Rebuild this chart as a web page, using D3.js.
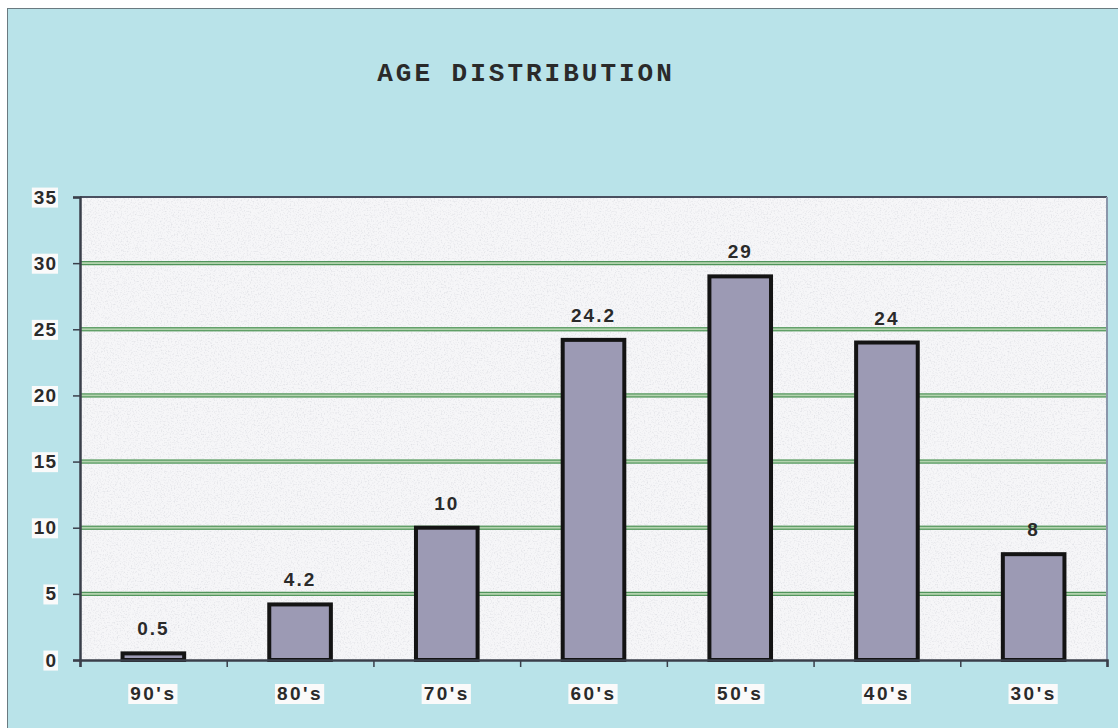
<!DOCTYPE html>
<html>
<head>
<meta charset="utf-8">
<script src="https://cdn.jsdelivr.net/npm/d3@7"></script>
<style>
  body { margin: 0; background: #ffffff; }
  svg { display: block; }
</style>
</head>
<body>
<svg id="chart" width="1118" height="728"></svg>
<script>
const categories = ["90's", "80's", "70's", "60's", "50's", "40's", "30's"];
const values = [0.5, 4.2, 10, 24.2, 29, 24, 8];
const yTicks = [0, 5, 10, 15, 20, 25, 30, 35];
const title = "AGE DISTRIBUTION";

const margin = { top: 197, right: 11, bottom: 68, left: 80 };
const width = 1118 - margin.left - margin.right;
const height = 728 - margin.top - margin.bottom;

const svg = d3.select("#chart");

// speckle texture for the plot area
const defs = svg.append("defs");
const f = defs.append("filter").attr("id", "speckle").attr("x", 0).attr("y", 0).attr("width", 1).attr("height", 1);
f.append("feTurbulence").attr("type", "fractalNoise").attr("baseFrequency", 0.7).attr("numOctaves", 2).attr("seed", 3).attr("result", "n");
f.append("feColorMatrix").attr("in", "n").attr("type", "matrix")
  .attr("values", "0 0 0 0 0.7  0 0 0 0 0.71  0 0 0 0 0.75  0 0 0 -2.6 1.35").attr("result", "dots");
f.append("feComposite").attr("in", "dots").attr("in2", "SourceGraphic").attr("operator", "in");

// outer background
svg.append("rect").attr("width", 1118).attr("height", 728).attr("fill", "#fff");
svg.append("rect")
  .attr("x", 7.5).attr("y", 8.5).attr("width", 1120).attr("height", 730)
  .attr("fill", "#b9e3e9").attr("stroke", "#6a7a80").attr("stroke-width", 1);

svg.append("text")
  .attr("x", 526).attr("y", 81)
  .attr("text-anchor", "middle")
  .style("font-family", "'Liberation Mono', 'Courier New', monospace")
  .style("font-weight", "bold")
  .style("font-size", "26px")
  .style("letter-spacing", "3px")
  .attr("fill", "#2a2a2a")
  .text(title);

const g = svg.append("g").attr("transform", `translate(${margin.left},${margin.top})`);

const x = d3.scaleBand().domain(categories).range([0, width]).paddingInner(0.58).paddingOuter(0.29);
const xEdges = d3.scalePoint().domain(d3.range(categories.length + 1)).range([0, width]);
const y = d3.scaleLinear().domain([0, 35]).range([height, 0]);

// plot area
g.append("rect").attr("width", width).attr("height", height).attr("fill", "#f6f6f8");
g.append("rect").attr("width", width).attr("height", height).attr("fill", "#fff").attr("filter", "url(#speckle)").attr("opacity", 0.7);

// green double gridlines
const grid = g.append("g");
yTicks.filter(t => t > 0 && t < 35).forEach(t => {
  grid.append("line").attr("x1", 0).attr("x2", width).attr("y1", y(t)).attr("y2", y(t))
    .attr("stroke", "#b3d3ae").attr("stroke-width", 4);
  [-1.5, 1.5].forEach(d => {
    grid.append("line").attr("x1", 0).attr("x2", width).attr("y1", y(t) + d).attr("y2", y(t) + d)
      .attr("stroke", "#3f8a4c").attr("stroke-width", 1);
  });
});

// bars
g.selectAll("rect.bar")
  .data(values)
  .enter()
  .append("rect")
  .attr("class", "bar")
  .attr("x", (d, i) => x(categories[i]))
  .attr("y", d => y(d))
  .attr("width", x.bandwidth())
  .attr("height", d => y(0) - y(d))
  .attr("fill", "#9c9ab4")
  .attr("stroke", "#141414")
  .attr("stroke-width", 4);

const labelFont = "'Liberation Sans', Arial, sans-serif";

// value labels
g.selectAll("text.val")
  .data(values)
  .enter()
  .append("text")
  .attr("class", "val")
  .attr("x", (d, i) => x(categories[i]) + x.bandwidth() / 2)
  .attr("y", d => y(d) - 18)
  .attr("text-anchor", "middle")
  .style("font-family", labelFont)
  .style("font-weight", "bold")
  .style("font-size", "19px")
  .style("letter-spacing", "2px")
  .attr("fill", "#2a2a2a")
  .text(d => d);

// frame lines
g.append("line").attr("x1", 0).attr("x2", width).attr("y1", 0).attr("y2", 0).attr("stroke", "#4a5060").attr("stroke-width", 2);
g.append("line").attr("x1", width).attr("x2", width).attr("y1", 0).attr("y2", height).attr("stroke", "#8a96aa").attr("stroke-width", 2);

// y axis
const yAxis = g.append("g")
  .call(d3.axisLeft(y).tickValues(yTicks).tickSize(7).tickPadding(16));
yAxis.select(".domain").attr("stroke", "#3a3f4a").attr("stroke-width", 2.5);
yAxis.selectAll(".tick line").attr("stroke", "#3a3f4a").attr("stroke-width", 1.5);
yAxis.selectAll(".tick text")
  .style("font-family", labelFont)
  .style("font-weight", "bold")
  .style("font-size", "19px")
  .style("letter-spacing", "1px")
  .attr("fill", "#2a2a2a");

// x axis
const xAxis = g.append("g")
  .attr("transform", `translate(0,${height})`)
  .call(d3.axisBottom(xEdges).tickSize(7).tickFormat(""));
xAxis.select(".domain").attr("stroke", "#3a3f4a").attr("stroke-width", 2.5);
xAxis.selectAll(".tick line").attr("stroke", "#3a3f4a").attr("stroke-width", 1.5);

const xLabels = g.append("g").attr("transform", `translate(0,${height})`);
xLabels.selectAll("text")
  .data(categories)
  .enter()
  .append("text")
  .attr("x", d => x(d) + x.bandwidth() / 2)
  .attr("y", 40)
  .attr("text-anchor", "middle")
  .style("font-family", labelFont)
  .style("font-weight", "bold")
  .style("font-size", "19px")
  .style("letter-spacing", "2.5px")
  .attr("fill", "#2a2a2a")
  .text(d => d);

// white boxes behind axis labels
[yAxis.selectAll(".tick text"), xLabels.selectAll("text")].forEach(sel => {
  sel.each(function () {
    const b = this.getBBox();
    d3.select(this.parentNode).insert("rect", () => this)
      .attr("x", b.x - 2).attr("y", b.y + 1)
      .attr("width", b.width + 3).attr("height", b.height - 1)
      .attr("fill", "#fafafa");
  });
});
</script>
</body>
</html>
